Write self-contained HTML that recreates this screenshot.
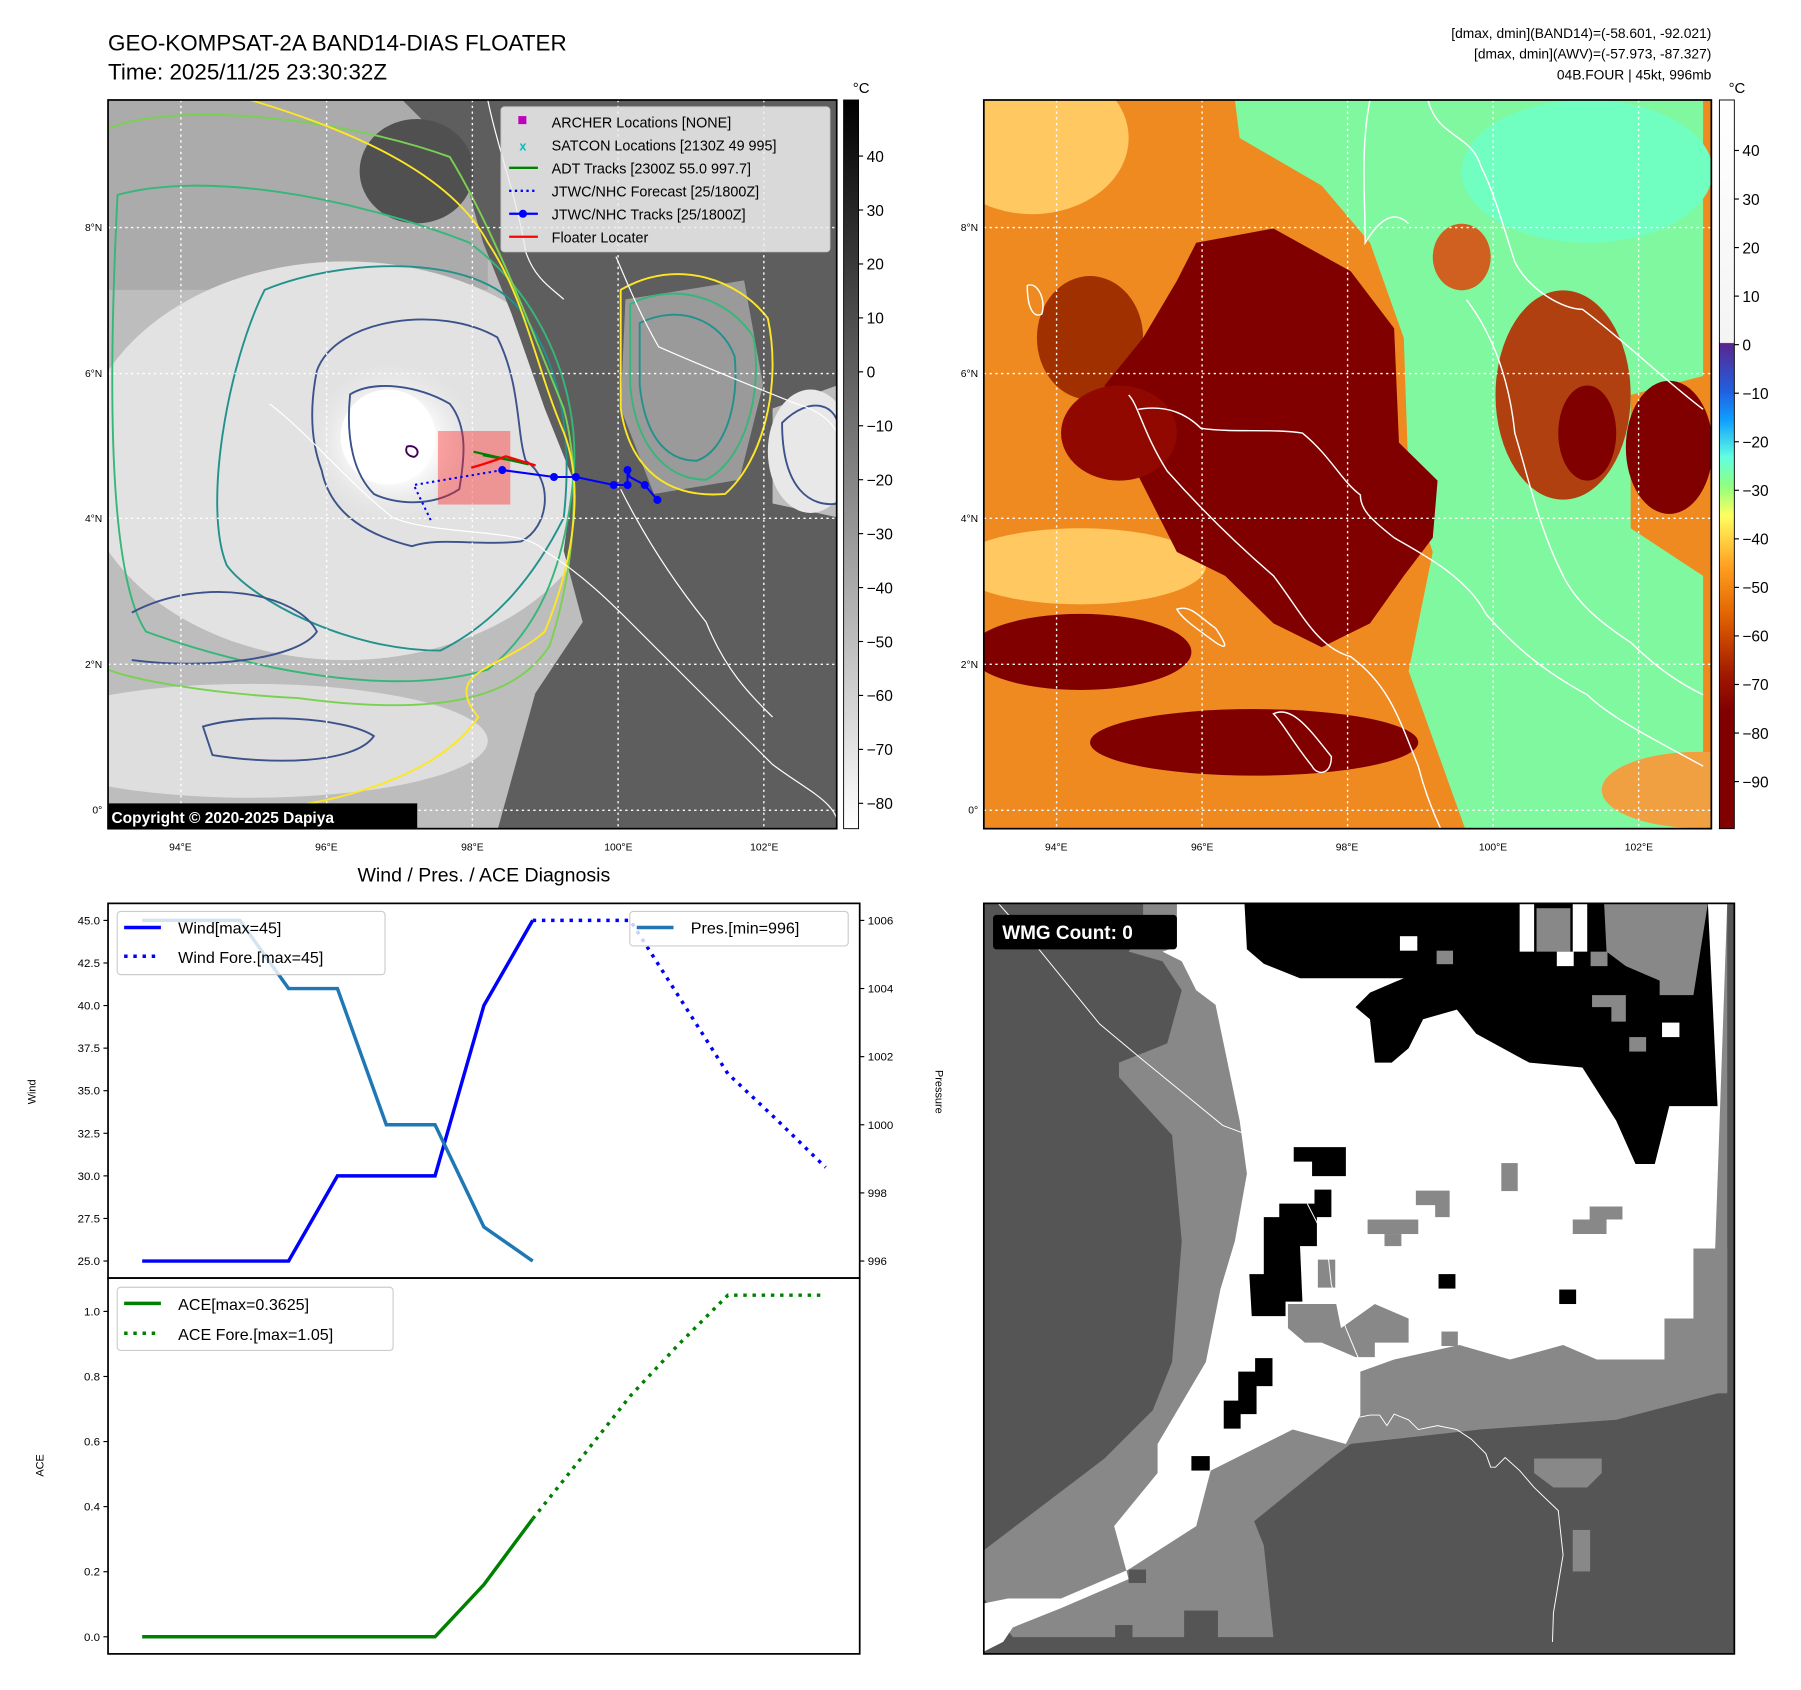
<!DOCTYPE html>
<html><head><meta charset="utf-8"><style>
html,body{margin:0;padding:0;background:#fff}
svg{display:block;font-family:"Liberation Sans","DejaVu Sans",sans-serif}
</style></head><body>
<svg id="root" width="1801" height="1690" viewBox="0 0 1567 1470" preserveAspectRatio="xMinYMin meet" xmlns="http://www.w3.org/2000/svg">
<defs>
<linearGradient id="cbGrey" x1="0" y1="0" x2="0" y2="1"><stop offset="0" stop-color="#000"/><stop offset="1" stop-color="#fff"/></linearGradient>
<linearGradient id="cbIR" x1="0" y1="0" x2="0" y2="1">
<stop offset="0" stop-color="#ffffff"/><stop offset="0.333" stop-color="#f4f4f4"/>
<stop offset="0.334" stop-color="#5a2590"/><stop offset="0.40" stop-color="#2060e0"/><stop offset="0.44" stop-color="#10a0ff"/>
<stop offset="0.49" stop-color="#60ffe0"/><stop offset="0.53" stop-color="#90ff80"/><stop offset="0.57" stop-color="#ffff60"/>
<stop offset="0.64" stop-color="#ffa020"/><stop offset="0.71" stop-color="#e06000"/><stop offset="0.79" stop-color="#a01800"/><stop offset="0.84" stop-color="#800000"/><stop offset="1" stop-color="#800000"/></linearGradient>
<radialGradient id="storm" cx="0.5" cy="0.5" r="0.5"><stop offset="0" stop-color="#fff"/><stop offset="0.5" stop-color="#fafafa"/><stop offset="1" stop-color="#e6e6e6" stop-opacity="0"/></radialGradient>
<clipPath id="clipL"><rect x="94" y="87" width="634" height="634"/></clipPath>
<clipPath id="clipR"><rect x="856" y="87" width="633" height="634"/></clipPath>
<clipPath id="clipB"><rect x="856" y="786" width="653" height="653"/></clipPath>
</defs>

<text x="94" y="44" font-size="19.5">GEO-KOMPSAT-2A BAND14-DIAS FLOATER</text>
<text x="94" y="69" font-size="19.5">Time: 2025/11/25 23:30:32Z</text>
<g font-size="12" text-anchor="end">
<text x="1489" y="33">[dmax, dmin](BAND14)=(-58.601, -92.021)</text>
<text x="1489" y="51">[dmax, dmin](AWV)=(-57.973, -87.327)</text>
<text x="1489" y="69">04B.FOUR | 45kt, 996mb</text>
</g>

<!-- LEFT MAP -->
<g clip-path="url(#clipL)">
<rect x="94" y="87" width="634" height="634" fill="#bdbdbd"/>
<g transform="translate(94,87) scale(0.413)">
<rect x="0" y="0" width="800" height="400" fill="#ababab"/>
<ellipse cx="500" cy="760" rx="560" ry="420" fill="#e2e2e2"/>
<ellipse cx="300" cy="1350" rx="500" ry="120" fill="#dedede"/>
<polygon points="620,0 1540,0 1540,600 1400,650 1400,850 1540,880 1540,1540 820,1540 900,1250 1000,1100 960,950 980,800 920,650 850,450 790,300 740,120" fill="#5e5e5e"/>
<polygon points="1090,420 1340,380 1380,600 1330,800 1150,830 1080,650" fill="#9a9a9a"/>
<ellipse cx="1480" cy="740" rx="90" ry="130" fill="#e8e8e8"/>
<ellipse cx="650" cy="150" rx="120" ry="110" fill="#505050"/>
<ellipse cx="600" cy="720" rx="180" ry="170" fill="url(#storm)"/>
<ellipse cx="590" cy="710" rx="100" ry="100" fill="#fff"/>
<g fill="none" stroke-width="4">
<path d="M440,570 C480,460 700,430 820,500 C870,600 860,700 880,760 C940,800 930,900 870,930 C780,940 700,920 640,940 C560,920 470,880 450,780 C420,700 430,620 440,570Z" stroke="#3b528b"/>
<path d="M510,620 C560,590 650,600 720,640 C760,690 750,760 740,820 C680,860 600,850 560,830 C520,790 500,720 510,620Z" stroke="#3b528b"/>
<path d="M330,400 C500,330 800,320 880,460 C950,560 980,700 960,880 C900,1000 820,1100 700,1160 C500,1160 300,1050 250,980 C200,860 250,560 330,400Z" stroke="#21918c"/>
<path d="M20,200 C200,150 500,200 760,300 C900,400 1000,600 980,800 C960,1000 900,1120 800,1200 C600,1260 300,1200 80,1120 C0,1000 0,600 20,200Z" stroke="#35b779"/>
<path d="M0,60 C150,0 500,40 720,120 C800,250 880,450 960,650 C1000,800 980,1000 930,1150 C860,1260 700,1300 400,1260 C200,1250 50,1220 0,1200" stroke="#7ad151"/>
<path d="M300,0 C500,60 720,150 800,300 C880,420 900,560 960,700 C1010,830 970,1000 920,1120 C830,1200 700,1200 780,1300 C700,1420 500,1480 300,1500" stroke="#fde725"/>
<path d="M1080,400 C1200,330 1330,380 1390,460 C1420,600 1380,760 1300,830 C1180,840 1100,780 1080,650 Z" stroke="#fde725"/>
<path d="M1100,430 C1200,380 1310,420 1360,500 C1380,620 1340,760 1260,800 C1170,800 1110,720 1100,600 Z" stroke="#35b779"/>
<path d="M1120,470 C1200,430 1290,460 1320,540 C1330,640 1300,740 1240,760 C1170,760 1130,700 1120,600 Z" stroke="#21918c"/>
<path d="M1420,680 C1480,620 1540,640 1540,700 L1540,850 C1480,860 1420,820 1420,680Z" stroke="#3b528b"/>
<path d="M50,1080 C200,1000 400,1040 440,1120 C400,1180 200,1200 50,1180" stroke="#3b528b"/>
<path d="M200,1320 C300,1290 500,1300 560,1340 C520,1400 340,1400 220,1380 Z" stroke="#3b528b"/>
<path d="M630,730 C650,725 660,745 645,752 C630,750 625,740 630,730Z" stroke="#440154"/>
</g>
<g fill="none" stroke="#fff" stroke-width="2.5">
<path d="M340,640 C420,700 500,800 600,880 C700,920 880,900 920,950 C1000,1000 1060,1060 1100,1100 C1200,1200 1280,1280 1400,1400 C1480,1460 1540,1480 1540,1540"/>
<path d="M800,0 C820,100 860,200 880,320 C900,380 940,400 960,420"/>
<path d="M1070,330 C1100,400 1120,450 1160,520 C1250,560 1350,600 1450,640 C1520,660 1540,700 1540,720"/>
<path d="M1080,820 C1120,900 1180,1000 1260,1100 C1300,1200 1350,1250 1400,1300"/>
</g>
</g>
</g>
<g stroke="#fff" stroke-width="1.2" stroke-dasharray="2,3">
<line x1="157.4" y1="87" x2="157.4" y2="721"/><line x1="284.2" y1="87" x2="284.2" y2="721"/><line x1="411" y1="87" x2="411" y2="721"/><line x1="537.8" y1="87" x2="537.8" y2="721"/><line x1="664.6" y1="87" x2="664.6" y2="721"/>
<line x1="94" y1="705" x2="728" y2="705"/><line x1="94" y1="578" x2="728" y2="578"/><line x1="94" y1="451" x2="728" y2="451"/><line x1="94" y1="325" x2="728" y2="325"/><line x1="94" y1="198" x2="728" y2="198"/>
</g>
<rect x="381" y="375" width="63" height="64" fill="#ff2020" fill-opacity="0.4"/>
<polyline points="437,409 360,422 375,453" fill="none" stroke="#0000ff" stroke-width="1.8" stroke-dasharray="2,3"/>
<polyline points="412,393 460,404 442,400 420,396" fill="none" stroke="#008000" stroke-width="2"/>
<polyline points="410,407 420,404 432,400 440,397 466,405" fill="none" stroke="#ff0000" stroke-width="2"/>
<g>
<polyline points="437,409 482,415 501,415 534,422 546,422 546,409 548,415 561,422 572,435" fill="none" stroke="#0000ff" stroke-width="1.8"/>
<g fill="#0000ff"><circle cx="437" cy="409" r="3.5"/><circle cx="482" cy="415" r="3.5"/><circle cx="501" cy="415" r="3.5"/><circle cx="534" cy="422" r="3.5"/><circle cx="546" cy="422" r="3.5"/><circle cx="546" cy="409" r="3.5"/><circle cx="561" cy="422" r="3.5"/><circle cx="572" cy="435" r="3.5"/></g>
</g>
<g>
<rect x="436" y="93" width="286" height="126" rx="3" fill="#eee" fill-opacity="0.85" stroke="#ccc"/>
<rect x="451" y="101" width="7" height="7" fill="#bf00bf"/>
<text x="455" y="131" font-size="11" fill="#00bfbf" font-weight="bold" text-anchor="middle">x</text>
<line x1="443" y1="146" x2="468" y2="146" stroke="#008000" stroke-width="2"/>
<line x1="443" y1="166" x2="468" y2="166" stroke="#0000ff" stroke-width="2" stroke-dasharray="2,3"/>
<line x1="443" y1="186" x2="468" y2="186" stroke="#0000ff" stroke-width="2"/><circle cx="455" cy="186" r="3.5" fill="#0000ff"/>
<line x1="443" y1="206" x2="468" y2="206" stroke="#ff0000" stroke-width="2"/>
<g font-size="12.5" fill="#000">
<text x="480" y="111">ARCHER Locations [NONE]</text>
<text x="480" y="131">SATCON Locations [2130Z 49 995]</text>
<text x="480" y="151">ADT Tracks [2300Z 55.0 997.7]</text>
<text x="480" y="171">JTWC/NHC Forecast [25/1800Z]</text>
<text x="480" y="191">JTWC/NHC Tracks [25/1800Z]</text>
<text x="480" y="211">Floater Locater</text>
</g></g>
<rect x="94" y="699" width="269" height="22" fill="#000"/>
<text x="97" y="716" font-size="13.5" font-weight="bold" fill="#fff">Copyright &#169; 2020-2025 Dapiya</text>
<rect x="94" y="87" width="634" height="634" fill="none" stroke="#000" stroke-width="1.5"/>
<g font-size="9">
<text x="157" y="740" text-anchor="middle">94&#176;E</text><text x="284" y="740" text-anchor="middle">96&#176;E</text><text x="411" y="740" text-anchor="middle">98&#176;E</text><text x="538" y="740" text-anchor="middle">100&#176;E</text><text x="665" y="740" text-anchor="middle">102&#176;E</text>
<text x="89" y="708" text-anchor="end">0&#176;</text><text x="89" y="581" text-anchor="end">2&#176;N</text><text x="89" y="454" text-anchor="end">4&#176;N</text><text x="89" y="328" text-anchor="end">6&#176;N</text><text x="89" y="201" text-anchor="end">8&#176;N</text>
</g>
<g>
<rect x="734" y="87" width="13" height="634" fill="url(#cbGrey)" stroke="#000" stroke-width="0.8"/>
<text x="742" y="81" font-size="13">&#176;C</text>
<g font-size="13.5" id="cbL"></g>
</g>

<!-- RIGHT MAP -->
<g clip-path="url(#clipR)">
<rect x="856" y="87" width="633" height="634" fill="#ee8a20"/>
<g transform="translate(856,87) scale(0.42,0.414)">
<ellipse cx="100" cy="80" rx="200" ry="160" fill="#ffc860"/>
<ellipse cx="200" cy="980" rx="260" ry="80" fill="#ffc860"/>
<polygon points="520,0 1490,0 1490,580 1340,620 1340,900 1490,1000 1490,1540 1000,1540 880,1200 930,950 880,800 870,500 800,300 700,180 530,80" fill="#80f8a0"/>
<ellipse cx="1250" cy="150" rx="260" ry="150" fill="#70ffc0"/>
<ellipse cx="1200" cy="620" rx="140" ry="220" fill="#b04010"/>
<ellipse cx="990" cy="330" rx="60" ry="70" fill="#d06020"/>
<ellipse cx="220" cy="500" rx="110" ry="130" fill="#a03000"/>
<ellipse cx="1480" cy="1450" rx="200" ry="80" fill="#f0a040"/>
<g fill="#800000">
<polygon points="440,300 600,270 760,360 850,480 860,720 940,800 930,920 870,1000 800,1100 700,1150 600,1100 500,1000 400,950 300,750 250,600 330,500 400,380"/>
<ellipse cx="200" cy="1160" rx="230" ry="80"/>
<ellipse cx="560" cy="1350" rx="340" ry="70"/>
<ellipse cx="1420" cy="730" rx="90" ry="140"/>
<ellipse cx="1250" cy="700" rx="60" ry="100"/>
<ellipse cx="280" cy="700" rx="120" ry="100" fill="#900800"/>
</g>
<g fill="none" stroke="#fff" stroke-width="3">
<path d="M300,620 C320,640 330,700 380,780 C450,860 520,930 600,1000 C660,1080 690,1150 760,1170 C840,1230 860,1300 900,1400 C920,1480 950,1540 960,1560"/>
<path d="M320,650 C380,640 420,660 450,690 C520,700 600,690 660,700 C720,750 740,800 780,830 C780,860 800,880 850,920 C900,950 1000,1000 1040,1080 C1100,1150 1160,1200 1250,1250 C1300,1300 1400,1350 1490,1400"/>
<path d="M920,0 C940,80 1010,70 1030,140 C1060,200 1080,280 1100,340 C1130,400 1200,440 1240,440 C1320,500 1400,580 1490,650"/>
<path d="M800,0 C780,100 790,200 790,300 C820,250 850,230 880,260"/>
<path d="M1000,420 C1060,500 1090,600 1100,700 C1130,800 1150,900 1200,1000 C1230,1060 1280,1100 1340,1140 C1400,1200 1450,1230 1490,1250"/>
<path d="M400,1070 C430,1060 450,1090 480,1110 C500,1140 510,1160 480,1140 C440,1110 410,1090 400,1070Z"/>
<path d="M600,1290 C640,1270 680,1330 720,1380 C720,1420 690,1420 680,1400 C640,1350 620,1310 600,1290Z"/>
<path d="M90,390 C110,380 130,420 120,450 C100,460 90,430 90,390Z"/>
</g>
</g>
</g>
<g stroke="#fff" stroke-width="1.2" stroke-dasharray="2,3">
<line x1="919.3" y1="87" x2="919.3" y2="721"/><line x1="1045.9" y1="87" x2="1045.9" y2="721"/><line x1="1172.5" y1="87" x2="1172.5" y2="721"/><line x1="1299.1" y1="87" x2="1299.1" y2="721"/><line x1="1425.7" y1="87" x2="1425.7" y2="721"/>
<line x1="856" y1="705" x2="1489" y2="705"/><line x1="856" y1="578" x2="1489" y2="578"/><line x1="856" y1="451" x2="1489" y2="451"/><line x1="856" y1="325" x2="1489" y2="325"/><line x1="856" y1="198" x2="1489" y2="198"/>
</g>
<rect x="856" y="87" width="633" height="634" fill="none" stroke="#000" stroke-width="1.5"/>
<g font-size="9">
<text x="919" y="740" text-anchor="middle">94&#176;E</text><text x="1046" y="740" text-anchor="middle">96&#176;E</text><text x="1172" y="740" text-anchor="middle">98&#176;E</text><text x="1299" y="740" text-anchor="middle">100&#176;E</text><text x="1426" y="740" text-anchor="middle">102&#176;E</text>
<text x="851" y="708" text-anchor="end">0&#176;</text><text x="851" y="581" text-anchor="end">2&#176;N</text><text x="851" y="454" text-anchor="end">4&#176;N</text><text x="851" y="328" text-anchor="end">6&#176;N</text><text x="851" y="201" text-anchor="end">8&#176;N</text>
</g>
<g>
<rect x="1496" y="87" width="13" height="634" fill="url(#cbIR)" stroke="#000" stroke-width="0.8"/>
<text x="1504" y="81" font-size="13">&#176;C</text>
<g font-size="13.5" id="cbR"></g>
</g>

<!-- BOTTOM RIGHT WMG MAP -->
<g clip-path="url(#clipB)">
<rect x="856" y="786" width="653" height="653" fill="#555"/>
<g transform="translate(856,786) scale(0.42)">
<polygon fill="#888" points="330,0 1540,0 1540,1010 1310,1070 1030,1090 760,1120 580,1270 600,1520 60,1520 0,1440 0,1340 250,1150 350,1050 390,950 410,700 390,480 280,360 280,330 380,290 410,180 370,120 300,100 330,60"/>
<polygon fill="#555" points="1030,1090 1310,1070 1540,1010 1540,1520 600,1520 580,1330 560,1280 720,1150 760,1120"/>
<polygon fill="#888" points="1140,1150 1280,1150 1280,1180 1250,1210 1180,1210 1140,1180"/>
<polygon fill="#fff" points="400,0 1540,0 1510,860 1410,860 1410,945 1270,945 1200,915 1090,945 985,915 850,945 780,970 780,1060 750,1120 640,1090 580,1120 470,1175 440,1290 300,1380 160,1440 50,1440 0,1450 0,1550 40,1530 60,1500 160,1460 300,1400 270,1290 360,1180 360,1120 460,950 490,800 520,700 545,560 530,450 480,210 440,180 410,120 370,100 400,90"/>
<polygon fill="#888" points="630,830 730,830 740,880 810,830 880,860 880,910 810,910 810,940 770,940 700,910 665,910 630,880"/>
<polygon fill="#888" points="895,595 965,595 965,650 935,650 935,625 895,625"/>
<rect x="795" y="655" width="105" height="30" fill="#888"/><rect x="830" y="685" width="35" height="25" fill="#888"/>
<rect x="1072" y="538" width="34" height="58" fill="#888"/>
<polygon fill="#888" points="1220,655 1255,655 1255,628 1323,628 1323,655 1290,655 1290,685 1220,685"/>
<rect x="948" y="887" width="34" height="30" fill="#888"/>
<rect x="692" y="738" width="36" height="58" fill="#888"/>
<rect x="1470" y="715" width="70" height="300" fill="#888"/>
<polygon fill="#000" points="540,0 1500,0 1520,420 1420,420 1390,540 1350,540 1310,450 1240,340 1130,330 1020,270 980,220 910,240 880,300 845,330 810,330 800,240 770,215 800,185 870,155 760,155 655,155 580,125 545,95"/>
<rect x="1145" y="10" width="70" height="90" fill="#888"/>
<polygon fill="#888" points="1285,0 1500,0 1470,190 1400,190 1400,160 1330,130 1290,100"/>
<rect x="1110" y="0" width="30" height="100" fill="#fff"/><rect x="1220" y="0" width="30" height="100" fill="#fff"/>
<rect x="862" y="68" width="36" height="30" fill="#fff"/><rect x="938" y="98" width="34" height="28" fill="#888"/>
<rect x="1257" y="100" width="35" height="30" fill="#888"/><rect x="1187" y="100" width="35" height="30" fill="#fff"/>
<polygon fill="#888" points="1260,190 1330,190 1330,245 1300,245 1300,215 1260,215"/>
<rect x="1405" y="247" width="36" height="30" fill="#fff"/><rect x="1337" y="277" width="35" height="30" fill="#888"/>
<polygon fill="#000" points="642,505 750,505 750,565 680,565 680,535 642,535"/>
<polygon fill="#000" points="685,593 720,593 720,650 690,650 690,710 655,710 660,825 625,825 625,855 555,855 550,768 580,768 580,650 612,650 612,622 685,622"/>
<polygon fill="#000" points="562,942 598,942 598,1000 565,1000 565,1058 532,1058 532,1088 497,1088 497,1030 527,1030 527,970 562,970"/>
<rect x="942" y="768" width="35" height="30" fill="#000"/><rect x="1192" y="800" width="35" height="30" fill="#000"/>
<rect x="430" y="1145" width="38" height="30" fill="#000"/>
<rect x="300" y="1380" width="36" height="28" fill="#555"/><rect x="272" y="1495" width="36" height="28" fill="#555"/><rect x="415" y="1465" width="70" height="58" fill="#555"/>
<rect x="1220" y="1298" width="36" height="86" fill="#888"/>
<g fill="none" stroke="#fff" stroke-width="2">
<path d="M30,0 L110,90 L240,250 L330,325 L495,460 L535,475"/>
<path d="M670,622 L710,700 L720,790 L750,880 L775,940 L770,1000 L755,1030 L750,1070 L800,1060 L820,1060 L835,1082 L850,1058 L880,1070 L900,1090 L940,1082 L980,1090 L1010,1110 L1040,1140 L1050,1168 L1060,1168 L1080,1148 L1110,1175 L1140,1210 L1190,1258 L1200,1350 L1180,1470 L1178,1530"/>
</g>
</g>
<rect x="864" y="796" width="160" height="30" rx="3" fill="#000"/>
<text x="872" y="817" font-size="16.5" font-weight="bold" fill="#fff">WMG Count: 0</text>
</g>
<rect x="856" y="786" width="653" height="653" fill="none" stroke="#000" stroke-width="1.5"/>

<text x="421" y="767" font-size="17" text-anchor="middle">Wind / Pres. / ACE Diagnosis</text>
<g id="windChart"></g>
<g id="aceChart"></g>
</svg>
<script>
const timeSteps = [0,1,2,3,4,5,6,7,8,9,10,11,12,13,14];
const windObs = [25,25,25,25,30,30,30,40,45];
const windFore = [45,45,45,40.5,36,33.3,30.5];
const presObs = [1006,1006,1006,1004,1004,1000,1000,997,996];
const aceObs = [0,0,0,0,0,0,0,0.16,0.3625];
const aceFore = [0.3625,0.55,0.74,0.9,1.05,1.05,1.05];
const foreStart = 8;
const windTicks = [25.0,27.5,30.0,32.5,35.0,37.5,40.0,42.5,45.0];
const presTicks = [996,998,1000,1002,1004,1006];
const aceTicks = [0.0,0.2,0.4,0.6,0.8,1.0];
const cbLTicks = [40,30,20,10,0,-10,-20,-30,-40,-50,-60,-70,-80];
const cbRTicks = [40,30,20,10,0,-10,-20,-30,-40,-50,-60,-70,-80,-90];

const NS='http://www.w3.org/2000/svg';
function mk(tag, attrs, parent, txt){
  const e=document.createElementNS(NS,tag);
  for(const k in attrs) e.setAttribute(k,attrs[k]);
  if(txt!==undefined) e.textContent=txt;
  parent.appendChild(e); return e;
}
const L=94, R=748;
const xMin=-0.7, xMax=timeSteps[timeSteps.length-1]+0.7;
function xs(i){return L+(i-xMin)/(xMax-xMin)*(R-L);}
function lin(d0,d1,p0,p1){return v=>p0+(v-d0)/(d1-d0)*(p1-p0);}
function pts(arr,off,ys){return arr.map((v,i)=>xs(i+off).toFixed(1)+','+ys(v).toFixed(1)).join(' ');}

const wT=786, wB=1112;
const wy=lin(24,46,wB,wT), py=lin(995.5,1006.5,wB,wT);
const wc=document.getElementById('windChart');
let pl;
pl=mk('polyline',{points:pts(windObs,0,wy),fill:'none',stroke:'#0000ff','stroke-width':3},wc);


pl=mk('polyline',{points:pts(windFore,foreStart,wy),fill:'none',stroke:'#0000ff','stroke-width':3,'stroke-dasharray':'3,5'},wc);


pl=mk('polyline',{points:pts(presObs,0,py),fill:'none',stroke:'#1f77b4','stroke-width':3},wc);


mk('rect',{x:L,y:wT,width:R-L,height:wB-wT,fill:'none',stroke:'#000','stroke-width':1.5},wc);
windTicks.forEach(t=>{const y=wy(t);
  mk('line',{x1:L-4,y1:y,x2:L,y2:y,stroke:'#000'},wc);
  const tx=mk('text',{x:L-7,y:y+3.5,'font-size':10,'text-anchor':'end'},wc,t.toFixed(1));
  
  
});
presTicks.forEach(t=>{const y=py(t);
  mk('line',{x1:R,y1:y,x2:R+4,y2:y,stroke:'#000'},wc);
  const tx=mk('text',{x:R+7,y:y+3.5,'font-size':10},wc,String(t));
  
  
});
let t1=mk('text',{x:31,y:950,'font-size':9.5,'text-anchor':'middle',transform:'rotate(-90 31 950)'},wc,'Wind');


t1=mk('text',{x:814,y:950,'font-size':9.5,'text-anchor':'middle',transform:'rotate(90 814 950)'},wc,'Pressure');


let lg=mk('g',{},wc);


mk('rect',{x:102,y:793,width:233,height:55,rx:3,fill:'#fff','fill-opacity':0.8,stroke:'#ccc'},lg);
mk('line',{x1:108,y1:807,x2:140,y2:807,stroke:'#0000ff','stroke-width':3},lg);
mk('line',{x1:108,y1:832,x2:140,y2:832,stroke:'#0000ff','stroke-width':3,'stroke-dasharray':'3,5'},lg);
mk('text',{x:155,y:812,'font-size':14},lg,'Wind[max=45]');
mk('text',{x:155,y:838,'font-size':14},lg,'Wind Fore.[max=45]');
lg=mk('g',{},wc);


mk('rect',{x:548,y:793,width:190,height:30,rx:3,fill:'#fff','fill-opacity':0.8,stroke:'#ccc'},lg);
mk('line',{x1:554,y1:807,x2:586,y2:807,stroke:'#1f77b4','stroke-width':3},lg);
mk('text',{x:601,y:812,'font-size':14},lg,'Pres.[min=996]');

const aT=1112, aB=1439;
const ay=lin(-0.0525,1.1025,aB,aT);
const ac=document.getElementById('aceChart');
pl=mk('polyline',{points:pts(aceObs,0,ay),fill:'none',stroke:'#008000','stroke-width':3},ac);


pl=mk('polyline',{points:pts(aceFore,foreStart,ay),fill:'none',stroke:'#008000','stroke-width':3,'stroke-dasharray':'3,5'},ac);


mk('rect',{x:L,y:aT,width:R-L,height:aB-aT,fill:'none',stroke:'#000','stroke-width':1.5},ac);
aceTicks.forEach(t=>{const y=ay(t);
  mk('line',{x1:L-4,y1:y,x2:L,y2:y,stroke:'#000'},ac);
  const tx=mk('text',{x:L-7,y:y+3.5,'font-size':10,'text-anchor':'end'},ac,t.toFixed(1));
  
  
});
t1=mk('text',{x:38,y:1275,'font-size':9.5,'text-anchor':'middle',transform:'rotate(-90 38 1275)'},ac,'ACE');


lg=mk('g',{},ac);


mk('rect',{x:102,y:1120,width:240,height:55,rx:3,fill:'#fff','fill-opacity':0.8,stroke:'#ccc'},lg);
mk('line',{x1:108,y1:1134,x2:140,y2:1134,stroke:'#008000','stroke-width':3},lg);
mk('line',{x1:108,y1:1160,x2:140,y2:1160,stroke:'#008000','stroke-width':3,'stroke-dasharray':'3,5'},lg);
mk('text',{x:155,y:1140,'font-size':14},lg,'ACE[max=0.3625]');
mk('text',{x:155,y:1166,'font-size':14},lg,'ACE Fore.[max=1.05]');

const cbl=document.getElementById('cbL'), cbr=document.getElementById('cbR');
const cyL=lin(50.4,-84.7,87,721), cyR=lin(50.4,-99.7,87,721);
cbLTicks.forEach(t=>{const y=cyL(t);
  mk('line',{x1:747,y1:y,x2:751,y2:y,stroke:'#000'},cbl);
  const tx=mk('text',{x:754,y:y+5},cbl,t<0?'\u2212'+(-t):String(t));
  
  
});
cbRTicks.forEach(t=>{const y=cyR(t);
  mk('line',{x1:1509,y1:y,x2:1513,y2:y,stroke:'#000'},cbr);
  const tx=mk('text',{x:1516,y:y+5},cbr,t<0?'\u2212'+(-t):String(t));
  
  
});
</script>
</body></html>
